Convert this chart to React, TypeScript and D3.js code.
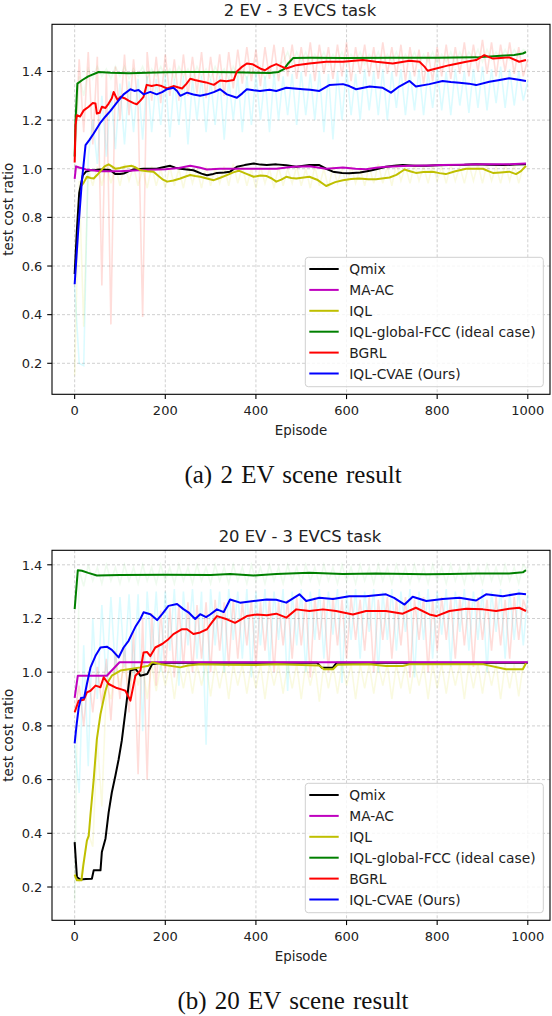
import React, {Component} from "react";
import * as d3 from "d3";

type Pt = [number, number];

const episodeTicks = [0, 200, 400, 600, 800, 1000];
const ratioTicks = [0.2, 0.4, 0.6, 0.8, 1.0, 1.2, 1.4];
const methodNames = ["Qmix", "MA-AC", "IQL", "IQL-global-FCC (ideal case)", "BGRL", "IQL-CVAE (Ours)"];
const methodColors = ["#000000", "#bf00bf", "#bfbf00", "#008000", "#ff0000", "#0000ff"];
// raw (unsmoothed) runs are listed every RAW_STEP episodes
const RAW_STEP = 10;

// ---- 2 EV - 3 EVCS, smoothed curves [episode, ratio]
const qmix2: Pt[] = [[0,0.567],[5,0.75],[10,0.9],[18,0.973],[25,0.988],[35,0.994],[45,0.995],[57,0.997],[70,0.996],[79,0.994],[90,0.978],[100,0.978],[108,0.98],[120,0.99],[130,0.997],[152,1.0],[181,1.0],[195,1.006],[211,1.012],[222,1.004],[233,1.0],[262,0.994],[280,0.98],[292,0.973],[303,0.977],[314,0.983],[330,0.985],[343,0.988],[358,1.008],[375,1.015],[395,1.022],[410,1.017],[424,1.015],[445,1.018],[467,1.014],[489,1.008],[518,1.015],[540,1.015],[555,1.0],[570,0.988],[590,0.983],[606,0.981],[630,0.985],[651,0.992],[670,1.0],[687,1.008],[705,1.012],[724,1.015],[750,1.012],[776,1.012],[800,1.014],[827,1.015],[860,1.016],[886,1.018],[915,1.016],[945,1.015],[970,1.017],[996,1.019]];
const maac2: Pt[] = [[0,0.958],[3,1.01],[10,1.005],[25,0.997],[57,0.99],[80,0.99],[100,0.99],[150,0.995],[200,0.998],[230,1.003],[255,1.012],[275,1.005],[292,0.997],[320,1.0],[351,1.0],[395,1.0],[445,1.0],[482,1.008],[518,1.01],[555,1.0],[592,1.005],[620,1.0],[643,0.998],[665,1.004],[687,1.008],[739,1.012],[780,1.013],[812,1.015],[850,1.016],[886,1.018],[920,1.018],[959,1.019],[996,1.022]];
const iql2: Pt[] = [[15,0.93],[20,0.943],[27,0.967],[35,0.962],[42,0.96],[50,0.975],[57,0.99],[66,1.01],[75,1.018],[82,1.01],[90,1.0],[100,1.003],[111,1.008],[126,1.012],[135,1.005],[145,0.994],[160,0.99],[174,0.988],[185,0.97],[195,0.955],[204,0.947],[218,0.952],[233,0.96],[245,0.968],[255,0.974],[266,0.97],[277,0.967],[292,0.96],[307,0.953],[320,0.962],[336,0.974],[350,0.985],[362,0.992],[378,0.98],[395,0.967],[410,0.972],[424,0.97],[435,0.96],[445,0.947],[456,0.955],[467,0.967],[478,0.962],[489,0.96],[518,0.967],[535,0.955],[555,0.929],[575,0.945],[592,0.953],[610,0.958],[628,0.96],[648,0.957],[665,0.957],[695,0.964],[710,0.975],[728,0.997],[740,0.99],[753,0.983],[770,0.987],[790,0.988],[805,0.982],[819,0.978],[840,0.99],[864,1.0],[901,1.0],[913,0.99],[923,0.983],[940,0.985],[959,0.988],[974,0.978],[985,0.99],[996,1.012]];
const fcc2: Pt[] = [[0,1.05],[2,1.2],[6,1.35],[17,1.365],[30,1.38],[53,1.398],[80,1.395],[120,1.393],[160,1.395],[200,1.397],[250,1.398],[300,1.398],[350,1.397],[400,1.395],[430,1.394],[450,1.398],[462,1.41],[472,1.435],[482,1.455],[520,1.456],[600,1.455],[700,1.456],[800,1.456],[887,1.458],[940,1.465],[970,1.468],[989,1.474],[996,1.48]];
const bgrl2: Pt[] = [[0,1.026],[2,1.18],[5,1.22],[12,1.215],[20,1.24],[31,1.255],[40,1.27],[46,1.268],[49,1.227],[55,1.23],[60,1.255],[68,1.25],[75,1.268],[82,1.29],[86,1.316],[90,1.3],[95,1.282],[101,1.296],[110,1.29],[119,1.28],[130,1.27],[137,1.265],[145,1.28],[152,1.296],[159,1.345],[170,1.34],[181,1.345],[192,1.34],[204,1.33],[218,1.34],[237,1.33],[247,1.35],[255,1.37],[265,1.365],[277,1.36],[290,1.355],[307,1.345],[321,1.363],[335,1.36],[351,1.365],[358,1.4],[370,1.42],[380,1.433],[392,1.43],[402,1.42],[412,1.41],[420,1.405],[432,1.42],[445,1.43],[467,1.412],[489,1.426],[518,1.433],[555,1.44],[592,1.44],[636,1.447],[665,1.44],[702,1.433],[739,1.444],[761,1.44],[772,1.42],[779,1.403],[798,1.412],[827,1.426],[864,1.44],[886,1.447],[904,1.467],[923,1.453],[940,1.455],[959,1.458],[981,1.44],[996,1.447]];
const cvae2: Pt[] = [[0,0.525],[8,0.75],[16,0.95],[24,1.097],[33,1.12],[42,1.145],[57,1.19],[68,1.215],[79,1.238],[93,1.272],[108,1.306],[123,1.327],[132,1.32],[141,1.324],[152,1.306],[167,1.316],[181,1.306],[193,1.315],[204,1.327],[218,1.333],[226,1.32],[233,1.3],[248,1.313],[262,1.305],[277,1.3],[292,1.306],[307,1.315],[321,1.327],[336,1.306],[358,1.292],[370,1.31],[380,1.327],[395,1.323],[409,1.32],[430,1.325],[445,1.32],[467,1.333],[485,1.33],[504,1.327],[520,1.325],[540,1.32],[562,1.344],[592,1.348],[606,1.34],[621,1.327],[651,1.338],[680,1.333],[698,1.313],[716,1.338],[739,1.361],[753,1.338],[783,1.348],[812,1.361],[830,1.357],[849,1.354],[870,1.35],[886,1.344],[915,1.358],[935,1.364],[959,1.372],[980,1.366],[996,1.361]];

// ---- 2 EV raw runs (every 10 episodes, 0..1000)
const rawIql2 = [
  0.15, 0.95, 0.35, 1.00, 0.93, 1.01, 0.93, 1.02, 0.94, 1.01,
  0.93, 1.02, 0.95, 1.01, 0.93, 1.00, 0.92, 1.01, 0.93, 1.00,
  0.92, 1.01, 0.93, 1.00, 0.92, 1.01, 0.94, 1.00, 0.92, 1.01,
  0.93, 1.00, 0.94, 1.01, 0.93, 1.02, 0.94, 1.01, 0.93, 1.00,
  0.92, 1.01, 0.94, 1.00, 0.92, 1.01, 0.93, 1.00, 0.94, 1.01,
  0.93, 1.00, 0.92, 1.01, 0.93, 1.00, 0.92, 1.01, 0.94, 1.00,
  0.93, 1.01, 0.94, 1.00, 0.93, 1.01, 0.94, 1.02, 0.94, 1.01,
  0.93, 1.02, 0.95, 1.01, 0.94, 1.02, 0.95, 1.01, 0.94, 1.02,
  0.95, 1.01, 0.94, 1.02, 0.95, 1.01, 0.94, 1.02, 0.95, 1.02,
  0.94, 1.02, 0.95, 1.01, 0.94, 1.02, 0.95, 1.02, 0.94, 1.01,
  1.00];
const rawFcc2 = [
  1.00, 1.38, 1.30, 1.41, 1.37, 1.42, 1.38, 1.41, 1.37, 1.42,
  1.38, 1.42, 1.37, 1.41, 1.38, 1.42, 1.37, 1.41, 1.38, 1.42,
  1.38, 1.41, 1.37, 1.42, 1.38, 1.41, 1.37, 1.42, 1.38, 1.41,
  1.37, 1.42, 1.38, 1.41, 1.37, 1.42, 1.38, 1.41, 1.37, 1.42,
  1.38, 1.42, 1.37, 1.41, 1.38, 1.43, 1.44, 1.48, 1.43, 1.48,
  1.44, 1.48, 1.43, 1.47, 1.44, 1.48, 1.43, 1.47, 1.44, 1.48,
  1.43, 1.47, 1.44, 1.48, 1.43, 1.47, 1.44, 1.48, 1.43, 1.47,
  1.44, 1.48, 1.43, 1.47, 1.44, 1.48, 1.43, 1.47, 1.44, 1.48,
  1.43, 1.47, 1.44, 1.48, 1.43, 1.48, 1.44, 1.48, 1.45, 1.49,
  1.44, 1.49, 1.45, 1.48, 1.45, 1.49, 1.45, 1.49, 1.46, 1.49,
  1.48];
const rawBgrl2 = [
  1.03, 1.45, 1.15, 1.48, 1.10, 1.46, 0.52, 1.40, 0.36, 1.42,
  1.20, 1.47, 1.22, 1.45, 1.25, 0.39, 1.48, 1.28, 1.46, 1.27,
  1.47, 1.30, 1.45, 1.28, 1.47, 1.30, 1.46, 1.31, 1.48, 1.29,
  1.46, 1.32, 1.47, 1.30, 1.48, 1.33, 1.49, 1.35, 1.50, 1.36,
  1.49, 1.34, 1.50, 1.37, 1.51, 1.36, 1.50, 1.38, 1.51, 1.37,
  1.50, 1.38, 1.52, 1.36, 1.51, 1.39, 1.50, 1.37, 1.51, 1.38,
  1.52, 1.36, 1.50, 1.39, 1.51, 1.38, 1.50, 1.37, 1.52, 1.39,
  1.50, 1.38, 1.51, 1.36, 1.50, 1.38, 1.49, 1.35, 1.48, 1.36,
  1.50, 1.38, 1.51, 1.37, 1.50, 1.39, 1.52, 1.38, 1.51, 1.40,
  1.53, 1.39, 1.52, 1.38, 1.51, 1.40, 1.52, 1.39, 1.50, 1.38,
  1.45];
const rawCvae2 = [
  0.52, 0.20, 0.19, 1.05, 1.20, 1.02, 1.30, 1.05, 1.32, 1.08,
  1.35, 1.10, 1.36, 1.15, 1.37, 1.12, 1.38, 1.15, 1.37, 1.18,
  1.38, 1.13, 1.37, 1.18, 1.38, 1.10, 1.37, 1.20, 1.38, 1.15,
  1.37, 1.18, 1.38, 1.12, 1.37, 1.20, 1.38, 1.15, 1.38, 1.18,
  1.39, 1.20, 1.38, 1.15, 1.39, 1.20, 1.38, 1.22, 1.39, 1.18,
  1.40, 1.22, 1.39, 1.20, 1.40, 1.15, 1.39, 1.12, 1.40, 1.20,
  1.41, 1.22, 1.39, 1.20, 1.41, 1.24, 1.40, 1.22, 1.41, 1.20,
  1.40, 1.25, 1.41, 1.22, 1.40, 1.24, 1.41, 1.22, 1.40, 1.25,
  1.41, 1.24, 1.40, 1.22, 1.41, 1.26, 1.40, 1.23, 1.41, 1.25,
  1.42, 1.24, 1.41, 1.27, 1.42, 1.25, 1.41, 1.26, 1.40, 1.28,
  1.36];

// ---- 20 EV - 3 EVCS, smoothed curves
const qmix20: Pt[] = [[0,0.367],[5,0.237],[12,0.228],[25,0.23],[38,0.231],[42,0.262],[57,0.262],[60,0.33],[68,0.38],[75,0.478],[82,0.552],[90,0.615],[97,0.675],[104,0.745],[115,0.894],[123,1.006],[134,1.012],[140,1.0],[145,0.987],[160,0.993],[171,1.03],[190,1.035],[300,1.035],[500,1.035],[535,1.035],[545,1.017],[570,1.017],[578,1.035],[1000,1.035]];
const maac20: Pt[] = [[0,0.904],[7,0.987],[71,0.987],[99,1.037],[400,1.037],[700,1.037],[1000,1.037]];
const iql20: Pt[] = [[0,0.246],[5,0.225],[15,0.225],[19,0.28],[27,0.373],[31,0.39],[35,0.472],[42,0.6],[49,0.751],[57,0.844],[68,0.931],[75,0.968],[82,0.987],[101,1.006],[123,1.012],[145,1.018],[163,1.024],[171,1.037],[190,1.03],[233,1.018],[250,1.025],[277,1.03],[330,1.028],[400,1.027],[445,1.03],[540,1.025],[550,1.011],[570,1.011],[580,1.028],[650,1.03],[687,1.023],[724,1.023],[740,1.03],[800,1.03],[900,1.03],[952,1.011],[989,1.011],[996,1.033]];
const fcc20: Pt[] = [[0,1.235],[7,1.38],[16,1.378],[30,1.37],[49,1.36],[100,1.362],[200,1.363],[300,1.362],[343,1.366],[395,1.36],[445,1.366],[518,1.37],[592,1.366],[665,1.368],[776,1.365],[827,1.366],[886,1.368],[959,1.368],[989,1.372],[996,1.38]];
const bgrl20: Pt[] = [[0,0.851],[9,0.894],[20,0.897],[27,0.925],[35,0.931],[46,0.95],[57,0.944],[64,0.981],[75,0.956],[93,0.941],[105,0.935],[112,0.931],[123,0.894],[134,0.987],[145,1.006],[152,1.073],[160,1.075],[167,1.06],[178,1.092],[193,1.105],[207,1.123],[218,1.142],[237,1.16],[248,1.16],[262,1.142],[277,1.148],[292,1.16],[305,1.19],[314,1.209],[336,1.197],[354,1.184],[380,1.209],[402,1.215],[424,1.212],[445,1.218],[467,1.203],[489,1.234],[518,1.228],[548,1.234],[577,1.228],[614,1.215],[643,1.228],[687,1.228],[724,1.218],[753,1.24],[783,1.215],[798,1.209],[827,1.228],[864,1.236],[901,1.234],[930,1.228],[959,1.236],[981,1.24],[996,1.228]];
const cvae20: Pt[] = [[0,0.735],[4,0.8],[9,0.869],[14,0.904],[21,0.906],[27,0.956],[35,1.018],[46,1.061],[57,1.092],[71,1.095],[82,1.083],[97,1.055],[108,1.092],[119,1.117],[134,1.169],[145,1.198],[152,1.223],[167,1.216],[182,1.194],[193,1.216],[207,1.247],[226,1.254],[240,1.235],[251,1.223],[266,1.198],[277,1.216],[290,1.205],[299,1.215],[314,1.234],[329,1.224],[343,1.271],[365,1.259],[395,1.265],[424,1.271],[445,1.27],[467,1.259],[496,1.29],[511,1.265],[540,1.277],[570,1.273],[606,1.283],[643,1.283],[687,1.29],[705,1.277],[728,1.252],[746,1.281],[776,1.265],[812,1.273],[849,1.277],[886,1.267],[908,1.29],[945,1.283],[981,1.293],[996,1.29]];

// ---- 20 EV raw runs
const rawIql20 = [
  0.25, 0.22, 0.30, 0.40, 0.35, 0.75, 0.50, 0.95, 0.90, 1.03,
  0.95, 1.03, 0.92, 1.03, 0.95, 1.03, 0.90, 1.03, 0.93, 1.03,
  0.95, 1.03, 0.90, 1.03, 0.94, 1.03, 0.92, 1.03, 0.95, 1.03,
  0.91, 1.03, 0.94, 1.03, 0.90, 1.03, 0.95, 1.03, 0.92, 1.03,
  0.94, 1.03, 0.90, 1.03, 0.95, 1.03, 0.92, 1.03, 0.94, 1.03,
  0.90, 1.03, 0.95, 1.03, 0.89, 1.03, 0.94, 1.03, 0.92, 1.03,
  0.95, 1.03, 0.90, 1.03, 0.94, 1.03, 0.92, 1.03, 0.95, 1.03,
  0.90, 1.03, 0.94, 1.03, 0.92, 1.03, 0.95, 1.03, 0.90, 1.03,
  0.94, 1.03, 0.92, 1.03, 0.95, 1.03, 0.90, 1.03, 0.94, 1.03,
  0.92, 1.03, 0.95, 1.03, 0.90, 1.03, 0.94, 1.03, 0.91, 1.03,
  1.03];
const rawFcc20 = [
  0.15, 1.38, 1.32, 1.40, 1.34, 1.39, 1.33, 1.40, 1.34, 1.39,
  1.33, 1.40, 1.34, 1.39, 1.33, 1.40, 1.34, 1.39, 1.33, 1.40,
  1.34, 1.39, 1.33, 1.40, 1.34, 1.39, 1.33, 1.40, 1.34, 1.39,
  1.33, 1.40, 1.34, 1.39, 1.33, 1.40, 1.34, 1.39, 1.33, 1.40,
  1.34, 1.39, 1.33, 1.40, 1.34, 1.39, 1.33, 1.40, 1.34, 1.39,
  1.33, 1.40, 1.34, 1.39, 1.33, 1.40, 1.34, 1.39, 1.33, 1.40,
  1.34, 1.39, 1.33, 1.40, 1.34, 1.39, 1.33, 1.40, 1.34, 1.39,
  1.33, 1.40, 1.34, 1.39, 1.33, 1.40, 1.34, 1.39, 1.33, 1.40,
  1.34, 1.39, 1.33, 1.40, 1.34, 1.39, 1.33, 1.40, 1.34, 1.39,
  1.33, 1.40, 1.34, 1.39, 1.33, 1.40, 1.34, 1.39, 1.33, 1.40,
  1.38];
const rawBgrl20 = [
  0.85, 0.95, 0.80, 1.00, 0.85, 1.02, 0.88, 1.05, 0.82, 1.08,
  0.90, 1.10, 0.85, 1.15, 0.62, 1.20, 0.60, 1.22, 0.95, 1.23,
  1.00, 1.24, 0.98, 1.25, 1.02, 1.26, 1.00, 1.25, 1.05, 1.26,
  1.00, 1.27, 1.08, 1.26, 1.02, 1.27, 1.05, 1.26, 1.10, 1.27,
  1.02, 1.26, 1.08, 1.27, 1.00, 1.26, 1.10, 1.27, 1.05, 1.28,
  1.10, 1.27, 0.98, 1.28, 1.12, 1.27, 1.00, 1.28, 1.10, 1.27,
  1.05, 1.28, 1.12, 1.27, 1.08, 1.28, 1.00, 1.27, 1.12, 1.28,
  1.05, 1.27, 1.10, 1.28, 0.98, 1.27, 1.12, 1.28, 1.00, 1.27,
  1.08, 1.28, 1.12, 1.27, 1.05, 1.28, 1.10, 1.27, 1.02, 1.28,
  1.12, 1.27, 1.08, 1.28, 1.10, 1.27, 1.05, 1.28, 1.12, 1.27,
  1.22];
const rawCvae20 = [
  0.73, 0.55, 1.10, 0.65, 1.20, 0.90, 1.25, 0.95, 1.28, 1.00,
  1.28, 1.02, 1.29, 0.98, 1.29, 0.78, 1.30, 1.05, 1.30, 1.00,
  1.30, 1.08, 1.31, 0.95, 1.30, 1.10, 1.31, 1.05, 1.30, 0.73,
  1.31, 1.10, 1.30, 1.00, 1.31, 1.12, 1.30, 1.05, 1.31, 0.98,
  1.30, 1.10, 1.31, 1.02, 1.30, 1.12, 1.31, 0.93, 1.30, 1.10,
  1.31, 1.00, 1.30, 1.12, 1.31, 1.05, 1.30, 1.14, 1.31, 0.96,
  1.30, 1.12, 1.31, 1.05, 1.30, 1.15, 1.31, 1.00, 1.30, 1.12,
  1.31, 1.08, 1.30, 1.15, 1.31, 0.98, 1.30, 1.12, 1.31, 1.05,
  1.30, 1.14, 1.31, 1.02, 1.30, 1.15, 1.31, 1.08, 1.30, 1.12,
  1.31, 1.00, 1.30, 1.15, 1.31, 1.05, 1.30, 1.12, 1.31, 1.10,
  1.29];

// faint colours for the raw runs, drawn in this order
const rawColors = ["#d4d400", "#33cc33", "#ff2a1a", "#00e6ff"];
const rawOpacity = [0.12, 0.08, 0.16, 0.14];

interface PanelProps {
    panel_id: string;
    top: number;
    title: string;
    caption: string;
    yDomain: [number, number];
    curves: Pt[][];
    raws: number[][];
}

const W = 552;
const H = 490;
const margin = {left: 52, right: 2, top: 24.3, bottom: 95.7};
const FONT = "DejaVu Sans, sans-serif";

class Panel extends Component<PanelProps, {}> {
    componentDidMount() {
        const p = this.props;
        const mainsvg: any = d3.select(`#${p.panel_id}`);
        mainsvg.selectAll("*").remove();
        mainsvg.attr("width", W).attr("height", H);

        const x0 = margin.left, x1 = W - margin.right;
        const y0 = margin.top, y1 = H - margin.bottom;
        const x = d3.scaleLinear().domain([-50, 1049]).range([x0, x1]);
        const y = d3.scaleLinear().domain(p.yDomain).range([y1, y0]);

        mainsvg.append("rect").attr("width", W).attr("height", H).attr("fill", "#fff");

        // grid
        const grid = mainsvg.append("g").attr("stroke", "#c4c4c4").attr("stroke-width", 0.8)
            .attr("stroke-dasharray", "3,2");
        episodeTicks.forEach(t => grid.append("line").attr("x1", x(t)).attr("x2", x(t)).attr("y1", y0).attr("y2", y1));
        ratioTicks.forEach(t => grid.append("line").attr("x1", x0).attr("x2", x1).attr("y1", y(t)).attr("y2", y(t)));

        const line = d3.line<Pt>().x(d => x(d[0])).y(d => y(d[1]));

        // raw runs
        p.raws.forEach((vals, i) => {
            const pts: Pt[] = vals.map((v, k) => [k * RAW_STEP, v]);
            mainsvg.append("path").attr("d", line(pts)).attr("fill", "none")
                .attr("stroke", rawColors[i]).attr("stroke-opacity", rawOpacity[i])
                .attr("stroke-width", 1.6).attr("stroke-linejoin", "miter");
        });

        // smoothed curves
        p.curves.forEach((pts, i) => {
            mainsvg.append("path").attr("d", line(pts)).attr("fill", "none")
                .attr("stroke", methodColors[i]).attr("stroke-width", 2)
                .attr("stroke-linejoin", "round");
        });

        // frame
        mainsvg.append("rect").attr("x", x0).attr("y", y0).attr("width", x1 - x0).attr("height", y1 - y0)
            .attr("fill", "none").attr("stroke", "#000").attr("stroke-width", 1.1);

        // ticks
        const ax = mainsvg.append("g").attr("font-family", FONT).attr("font-size", 13).attr("fill", "#222");
        episodeTicks.forEach(t => {
            ax.append("line").attr("x1", x(t)).attr("x2", x(t)).attr("y1", y1).attr("y2", y1 + 4.8)
                .attr("stroke", "#000").attr("stroke-width", 1.1);
            ax.append("text").attr("x", x(t)).attr("y", y1 + 21).attr("text-anchor", "middle").text(t);
        });
        ratioTicks.forEach(t => {
            ax.append("line").attr("x1", x0 - 4.8).attr("x2", x0).attr("y1", y(t)).attr("y2", y(t))
                .attr("stroke", "#000").attr("stroke-width", 1.1);
            ax.append("text").attr("x", x0 - 9.6).attr("y", y(t) + 4.8).attr("text-anchor", "end").text(t.toFixed(1));
        });
        ax.append("text").attr("x", (x0 + x1) / 2).attr("y", y1 + 40.3).attr("text-anchor", "middle")
            .attr("font-size", 13.4).text("Episode");
        ax.append("text").attr("transform", `translate(12.5,${(y0 + y1) / 2}) rotate(-90)`)
            .attr("text-anchor", "middle").attr("font-size", 13.4).text("test cost ratio");
        ax.append("text").attr("x", (x0 + x1) / 2 - 1).attr("y", 15.5).attr("text-anchor", "middle")
            .attr("font-size", 16.4).text(p.title);

        // legend, lower right
        const lg = mainsvg.append("g").attr("font-family", FONT).attr("font-size", 13.8);
        lg.append("rect").attr("x", 305.3).attr("y", y1 - 137).attr("width", 238).attr("height", 129.4)
            .attr("rx", 3).attr("fill", "#fff").attr("fill-opacity", 0.8)
            .attr("stroke", "#d0d0d0").attr("stroke-width", 1);
        methodNames.forEach((name, i) => {
            const ry = y1 - 125.3 + i * 20.9;
            lg.append("line").attr("x1", 309.3).attr("x2", 338.7).attr("y1", ry).attr("y2", ry)
                .attr("stroke", methodColors[i]).attr("stroke-width", 2);
            lg.append("text").attr("x", 349.3).attr("y", ry + 5).attr("fill", "#222").text(name);
        });

        // caption
        mainsvg.append("text").attr("x", 293).attr("y", 483).attr("text-anchor", "middle")
            .attr("font-family", "Liberation Serif, Times New Roman, serif").attr("font-size", 25)
            .attr("word-spacing", 2).attr("fill", "#111").text(p.caption);
    }

    render() {
        return (
            <svg id={this.props.panel_id}
                 style={{position: "absolute", left: 0, top: this.props.top, display: "block"}}></svg>
        );
    }
}

export default function App() {
    return (
        <div style={{position: "absolute", left: 0, top: 0, width: 552, height: 1016, background: "#fff"}}>
            <Panel panel_id="ev2" top={0} title="2 EV - 3 EVCS task" caption="(a) 2 EV scene result"
                   yDomain={[0.0725, 1.594]}
                   curves={[qmix2, maac2, iql2, fcc2, bgrl2, cvae2]}
                   raws={[rawIql2, rawFcc2, rawBgrl2, rawCvae2]}/>
            <Panel panel_id="ev20" top={526} title="20 EV - 3 EVCS task" caption="(b) 20 EV scene result"
                   yDomain={[0.076, 1.454]}
                   curves={[qmix20, maac20, iql20, fcc20, bgrl20, cvae20]}
                   raws={[rawIql20, rawFcc20, rawBgrl20, rawCvae20]}/>
        </div>
    );
}
